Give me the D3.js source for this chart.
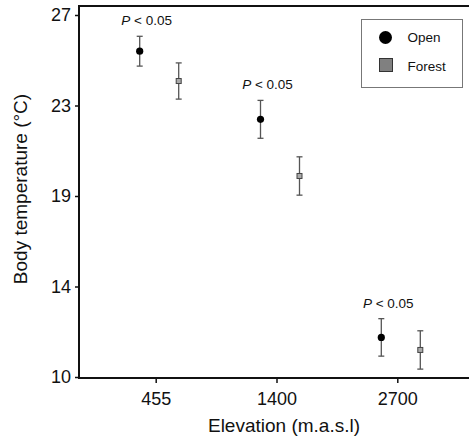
<!DOCTYPE html>
<html><head><meta charset="utf-8">
<script src="https://cdn.jsdelivr.net/npm/d3@7"></script>
<style>body{margin:0;background:#fff}svg{display:block}</style>
</head><body>
<script>
const categories = ["455", "1400", "2700"];
const groups = ["Open", "Forest"];
const openMean = [25.3, 22.1, 11.86];
const openErr = [0.7, 0.89, 0.88];
const forestMean = [23.9, 19.44, 11.27];
const forestErr = [0.85, 0.9, 0.9];
const yTicks = [10, 14.25, 18.5, 22.75, 27];
const pLabels = ["< 0.05", "< 0.05", "< 0.05"];

const W = 469, H = 444;
const svg = d3.select("body").append("svg").attr("width", W).attr("height", H);
const font = "Liberation Sans, Arial, sans-serif";

const x = d3.scalePoint().domain(categories).range([155.7, 397.3]);
const off = d3.scalePoint().domain(groups).range([-16, 23]);
const y = d3.scaleLinear().domain([10, 27]).range([377, 15]);

// axes
const yAxis = svg.append("g").attr("transform", "translate(79,0)")
  .call(d3.axisLeft(y).tickValues(yTicks).tickSize(4).tickSizeOuter(0).tickFormat(d => Math.round(d)));
yAxis.select(".domain").remove();
yAxis.selectAll("text").attr("font-family", font).attr("font-size", 18).attr("fill", "#111").attr("x", -8);
yAxis.selectAll("line").attr("stroke", "#111").attr("stroke-width", 1.5);

const xAxis = svg.append("g").attr("transform", "translate(0,378)")
  .call(d3.axisBottom(x).tickSize(5).tickSizeOuter(0));
xAxis.select(".domain").remove();
xAxis.selectAll("text").attr("font-family", font).attr("font-size", 18).attr("fill", "#111").attr("dy", "1.05em");
xAxis.selectAll("line").attr("stroke", "#111").attr("stroke-width", 1.5);

// frame lines
svg.append("line").attr("x1", 79).attr("x2", 79).attr("y1", 5).attr("y2", 379).attr("stroke", "#111").attr("stroke-width", 2);
svg.append("line").attr("x1", 78).attr("x2", 469).attr("y1", 378).attr("y2", 378).attr("stroke", "#111").attr("stroke-width", 2);
svg.append("line").attr("x1", 78).attr("x2", 469).attr("y1", 6).attr("y2", 6).attr("stroke", "#111").attr("stroke-width", 2);

// titles
svg.append("text").attr("x", 284).attr("y", 432).attr("text-anchor", "middle")
  .attr("font-family", font).attr("font-size", 19).attr("fill", "#111").text("Elevation (m.a.s.l)");
svg.append("text").attr("transform", "translate(27,189) rotate(-90)").attr("text-anchor", "middle")
  .attr("font-family", font).attr("font-size", 19).attr("fill", "#111").text("Body temperature (°C)");

// error bars + points
const series = [
  {g: "Open", mean: openMean, err: openErr},
  {g: "Forest", mean: forestMean, err: forestErr}
];
series.forEach(s => {
  categories.forEach((c, i) => {
    const cx = x(c) + off(s.g);
    const lo = y(s.mean[i] - s.err[i]), hi = y(s.mean[i] + s.err[i]);
    const eg = svg.append("g").attr("stroke", "#555").attr("stroke-width", 1.3);
    eg.append("line").attr("x1", cx).attr("x2", cx).attr("y1", hi).attr("y2", lo);
    eg.append("line").attr("x1", cx - 3).attr("x2", cx + 3).attr("y1", hi).attr("y2", hi);
    eg.append("line").attr("x1", cx - 3).attr("x2", cx + 3).attr("y1", lo).attr("y2", lo);
    if (s.g === "Open") {
      svg.append("circle").attr("cx", cx).attr("cy", y(s.mean[i])).attr("r", 3.6).attr("fill", "#000");
    } else {
      svg.append("rect").attr("x", cx - 2.5).attr("y", y(s.mean[i]) - 2.5).attr("width", 5).attr("height", 5)
        .attr("fill", "#aaa").attr("stroke", "#444").attr("stroke-width", 1);
    }
  });
});

// P labels
categories.forEach((c, i) => {
  const t = svg.append("text").attr("x", x(c) + off("Open") + 7).attr("y", y(openMean[i] + openErr[i]) - 11)
    .attr("text-anchor", "middle").attr("font-family", font).attr("font-size", 13.5).attr("fill", "#111");
  t.append("tspan").attr("font-style", "italic").text("P");
  t.append("tspan").text(" " + pLabels[i]);
});

// legend
const lg = svg.append("g");
lg.append("rect").attr("x", 361.5).attr("y", 19.5).attr("width", 101).attr("height", 68)
  .attr("fill", "#fff").attr("stroke", "#777").attr("stroke-width", 1);
lg.append("circle").attr("cx", 385.5).attr("cy", 37.5).attr("r", 6.5).attr("fill", "#000");
lg.append("rect").attr("x", 379.5).attr("y", 58.5).attr("width", 13).attr("height", 13)
  .attr("fill", "#808080").attr("stroke", "#333").attr("stroke-width", 1);
lg.append("text").attr("x", 407.5).attr("y", 37.5).attr("dy", "0.35em").attr("font-family", font)
  .attr("font-size", 13.5).attr("fill", "#111").text(groups[0]);
lg.append("text").attr("x", 407.5).attr("y", 66.5).attr("dy", "0.35em").attr("font-family", font)
  .attr("font-size", 13.5).attr("fill", "#111").text(groups[1]);
</script>
</body></html>
